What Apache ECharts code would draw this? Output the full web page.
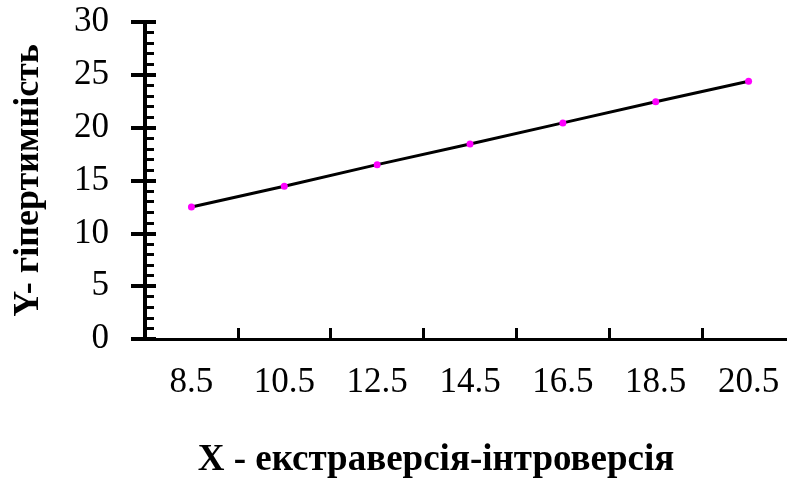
<!DOCTYPE html>
<html>
<head>
<meta charset="utf-8">
<script src="https://cdn.jsdelivr.net/npm/echarts@6/dist/echarts.min.js"></script>
<style>html,body{margin:0;padding:0;background:#fff}#c{width:787px;height:479px}</style>
</head>
<body>
<div id="c"></div>
<script>
const categories = ['8.5', '10.5', '12.5', '14.5', '16.5', '18.5', '20.5'];
const values = [12.5, 14.45, 16.5, 18.45, 20.45, 22.45, 24.4];
const xTitle = 'X - екстраверсія-інтроверсія';
const yTitle = 'Y- гіпертимність';

const chart = echarts.init(document.getElementById('c'));
const font = 'Liberation Serif';
chart.setOption({
  animation: false,
  backgroundColor: '#fff',
  grid: { left: 145, right: -8, top: 22, bottom: 140, containLabel: false, outerBoundsMode: 'none' },
  xAxis: {
    type: 'category',
    data: categories,
    boundaryGap: true,
    name: xTitle,
    nameLocation: 'middle',
    nameGap: 103,
    nameTextStyle: { fontFamily: font, fontSize: 37, fontWeight: 'bold', color: '#000', padding: [0, 68, 0, 0] },
    axisLine: { lineStyle: { color: '#000', width: 3 } },
    axisTick: { show: true, inside: true, length: 11, alignWithLabel: false, lineStyle: { color: '#000', width: 3 } },
    axisLabel: { fontFamily: font, fontSize: 35, color: '#000', margin: 26 },
    splitLine: { show: false }
  },
  yAxis: [{
    type: 'value',
    min: 0, max: 30, interval: 5,
    name: yTitle,
    nameLocation: 'middle',
    nameGap: 98,
    nameRotate: 90,
    nameTextStyle: { fontFamily: font, fontSize: 36, fontWeight: 'bold', color: '#000' },
    axisLine: { show: true, lineStyle: { color: '#000', width: 4 } },
    axisTick: { show: true, inside: false, length: 14, lineStyle: { color: '#000', width: 4 } },
    axisLabel: { fontFamily: font, fontSize: 35, color: '#000', margin: 36 },
    splitLine: { show: false }
  }, {
    type: 'value',
    min: 0, max: 30, interval: 5,
    position: 'left',
    offset: 0,
    axisLine: { show: true, lineStyle: { color: '#000', width: 4 } },
    axisTick: { show: true, inside: true, length: 11, lineStyle: { color: '#000', width: 4 } },
    minorTick: { show: true, splitNumber: 5, length: 9, lineStyle: { color: '#000', width: 3 } },
    axisLabel: { show: false },
    splitLine: { show: false }
  }],
  series: [{
    type: 'line',
    data: values,
    yAxisIndex: 0,
    symbol: 'circle',
    symbolSize: 7,
    lineStyle: { color: '#000', width: 3 },
    itemStyle: { color: '#ff00ff' },
    z: 3
  }]
});
</script>
</body>
</html>
